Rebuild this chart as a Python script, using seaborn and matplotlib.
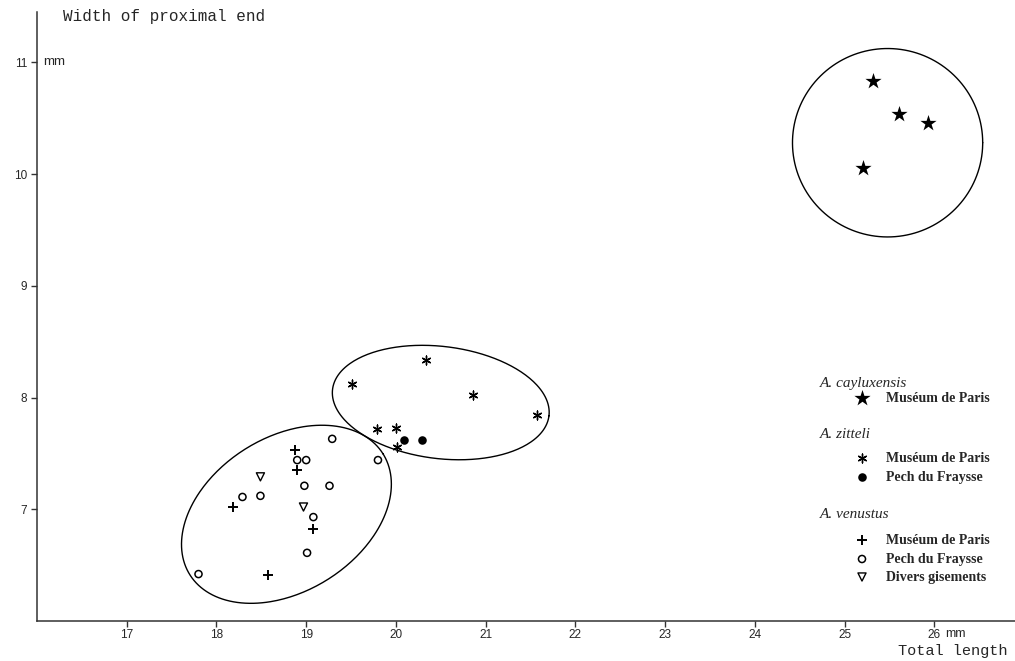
import numpy as np
import pandas as pd
import matplotlib.pyplot as plt
import seaborn as sns

sns.set_style("ticks")
plt.rcParams["font.family"] = ["Liberation Sans", "DejaVu Sans"]

# A. cayluxensis, Muséum de Paris
cay_mus_x = [25.32, 25.61, 25.93, 25.21]
cay_mus_y = [10.83, 10.54, 10.46, 10.05]

# A. zitteli
zit_mus_x = [19.51, 20.34, 20.86, 21.57, 19.79, 20.00, 20.01]
zit_mus_y = [8.12, 8.34, 8.02, 7.84, 7.72, 7.73, 7.56]
zit_pech_x = [20.09, 20.29]
zit_pech_y = [7.62, 7.62]

# A. venustus
ven_mus_x = [18.87, 18.90, 18.19, 19.08, 18.58]
ven_mus_y = [7.53, 7.35, 7.02, 6.82, 6.41]
ven_pech_x = [19.29, 18.90, 19.00, 19.80, 18.98, 19.26, 18.29, 18.49, 19.08, 19.01, 17.80]
ven_pech_y = [7.63, 7.44, 7.44, 7.44, 7.21, 7.21, 7.11, 7.12, 6.93, 6.61, 6.42]
ven_div_x = [18.49, 18.97]
ven_div_y = [7.29, 7.02]

x_ticks = [17, 18, 19, 20, 21, 22, 23, 24, 25, 26]
y_ticks = [7, 8, 9, 10, 11]

# hand-drawn group outlines: centre x, centre y, semi-axes (x units), angle
outlines = {
    "venustus": (18.78, 6.955, 1.27, 0.86, 32),
    "zitteli": (20.50, 7.955, 1.215, 0.625, -7),
    "cayluxensis": (25.48, 10.28, 1.06, 1.05, 0),
}

W, H = 1015, 661
fig = plt.figure(figsize=(W / 100, H / 100), dpi=100)
ax = fig.add_axes([37 / W, (H - 621) / H, (W - 37) / W, (621 - 12) / H])
ax.set_xlim(16.0, 26.9)
ax.set_ylim(6.0, 11.45)

series = [
    (cay_mus_x, cay_mus_y, dict(marker="*", s=150, color="black", linewidth=0)),
    (zit_mus_x, zit_mus_y, dict(marker=(6, 2, 0), s=40, color="black", linewidth=1.0)),
    (zit_pech_x, zit_pech_y, dict(marker="o", s=38, color="black", linewidth=0)),
    (ven_mus_x, ven_mus_y, dict(marker="+", s=55, color="black", linewidth=1.4)),
    (ven_pech_x, ven_pech_y, dict(marker="o", s=26, facecolor="none", edgecolor="black", linewidth=1.1)),
    (ven_div_x, ven_div_y, dict(marker="v", s=34, facecolor="none", edgecolor="black", linewidth=1.0)),
]
for xs, ys, kw in series:
    df = pd.DataFrame({"x": xs, "y": ys})
    sns.scatterplot(data=df, x="x", y="y", ax=ax, legend=False, zorder=3, **kw)

# outlines drawn as ellipses in screen proportions
x0, x1 = ax.get_xlim()
y0, y1 = ax.get_ylim()
ratio = ((W - 37) / (x1 - x0)) / ((621 - 12) / (y1 - y0))
t = np.linspace(0, 2 * np.pi, 300)
for cx, cy, a, b, ang in outlines.values():
    c, s = np.cos(np.radians(ang)), np.sin(np.radians(ang))
    dx = a * np.cos(t) * c - b * np.sin(t) * s
    dy = (a * np.cos(t) * s + b * np.sin(t) * c) * ratio
    ax.plot(cx + dx, cy + dy, color="black", lw=1.0)

ax.set_xticks(x_ticks)
ax.set_yticks(y_ticks)
ax.tick_params(axis="both", direction="out", length=4, width=1, labelsize=8.5, pad=3, color="#333333")
ax.tick_params(axis="x", pad=2)
ax.set_xlabel("")
ax.set_ylabel("")
sns.despine(ax=ax)
for sp in ["left", "bottom"]:
    ax.spines[sp].set_linewidth(1.1)
    ax.spines[sp].set_color("#333333")

def fx(px):
    return (px - 37) / (W - 37)

def fy(py):
    return (621 - py) / (621 - 12)

mono = ["Liberation Mono", "DejaVu Sans Mono"]
ax.text(fx(63), fy(17), "Width of proximal end", transform=ax.transAxes, family=mono,
        fontsize=11.5, va="center", ha="left")
ax.text(fx(1007), fy(651), "Total length", transform=ax.transAxes, family=mono,
        fontsize=11, va="center", ha="right", clip_on=False)
ax.text(fx(43), fy(62), "mm", transform=ax.transAxes, fontsize=9.5, va="center", ha="left")
ax.text(fx(945), fy(634), "mm", transform=ax.transAxes, fontsize=9, va="center", ha="left",
        clip_on=False)

# legend
serif = ["Liberation Serif", "DejaVu Serif"]
legend_rows = [
    ("head", "A. cayluxensis", 383, None),
    ("item", "Muséum de Paris", 398, series[0][2]),
    ("head", "A. zitteli", 434, None),
    ("item", "Muséum de Paris", 458, series[1][2]),
    ("item", "Pech du Fraysse", 477, series[2][2]),
    ("head", "A. venustus", 515, None),
    ("item", "Muséum de Paris", 540, series[3][2]),
    ("item", "Pech du Fraysse", 559, series[4][2]),
    ("item", "Divers gisements", 577, series[5][2]),
]
for kind, label, py, kw in legend_rows:
    if kind == "head":
        ax.text(fx(820), fy(py), label, transform=ax.transAxes, family=serif,
                style="italic", fontsize=11, va="center", ha="left")
    else:
        ax.scatter([fx(862)], [fy(py)], transform=ax.transAxes, clip_on=False, zorder=4, **kw)
        ax.text(fx(886), fy(py), label, transform=ax.transAxes, family=serif,
                weight="bold", fontsize=10, va="center", ha="left")

fig.savefig("out.png", dpi=100)
